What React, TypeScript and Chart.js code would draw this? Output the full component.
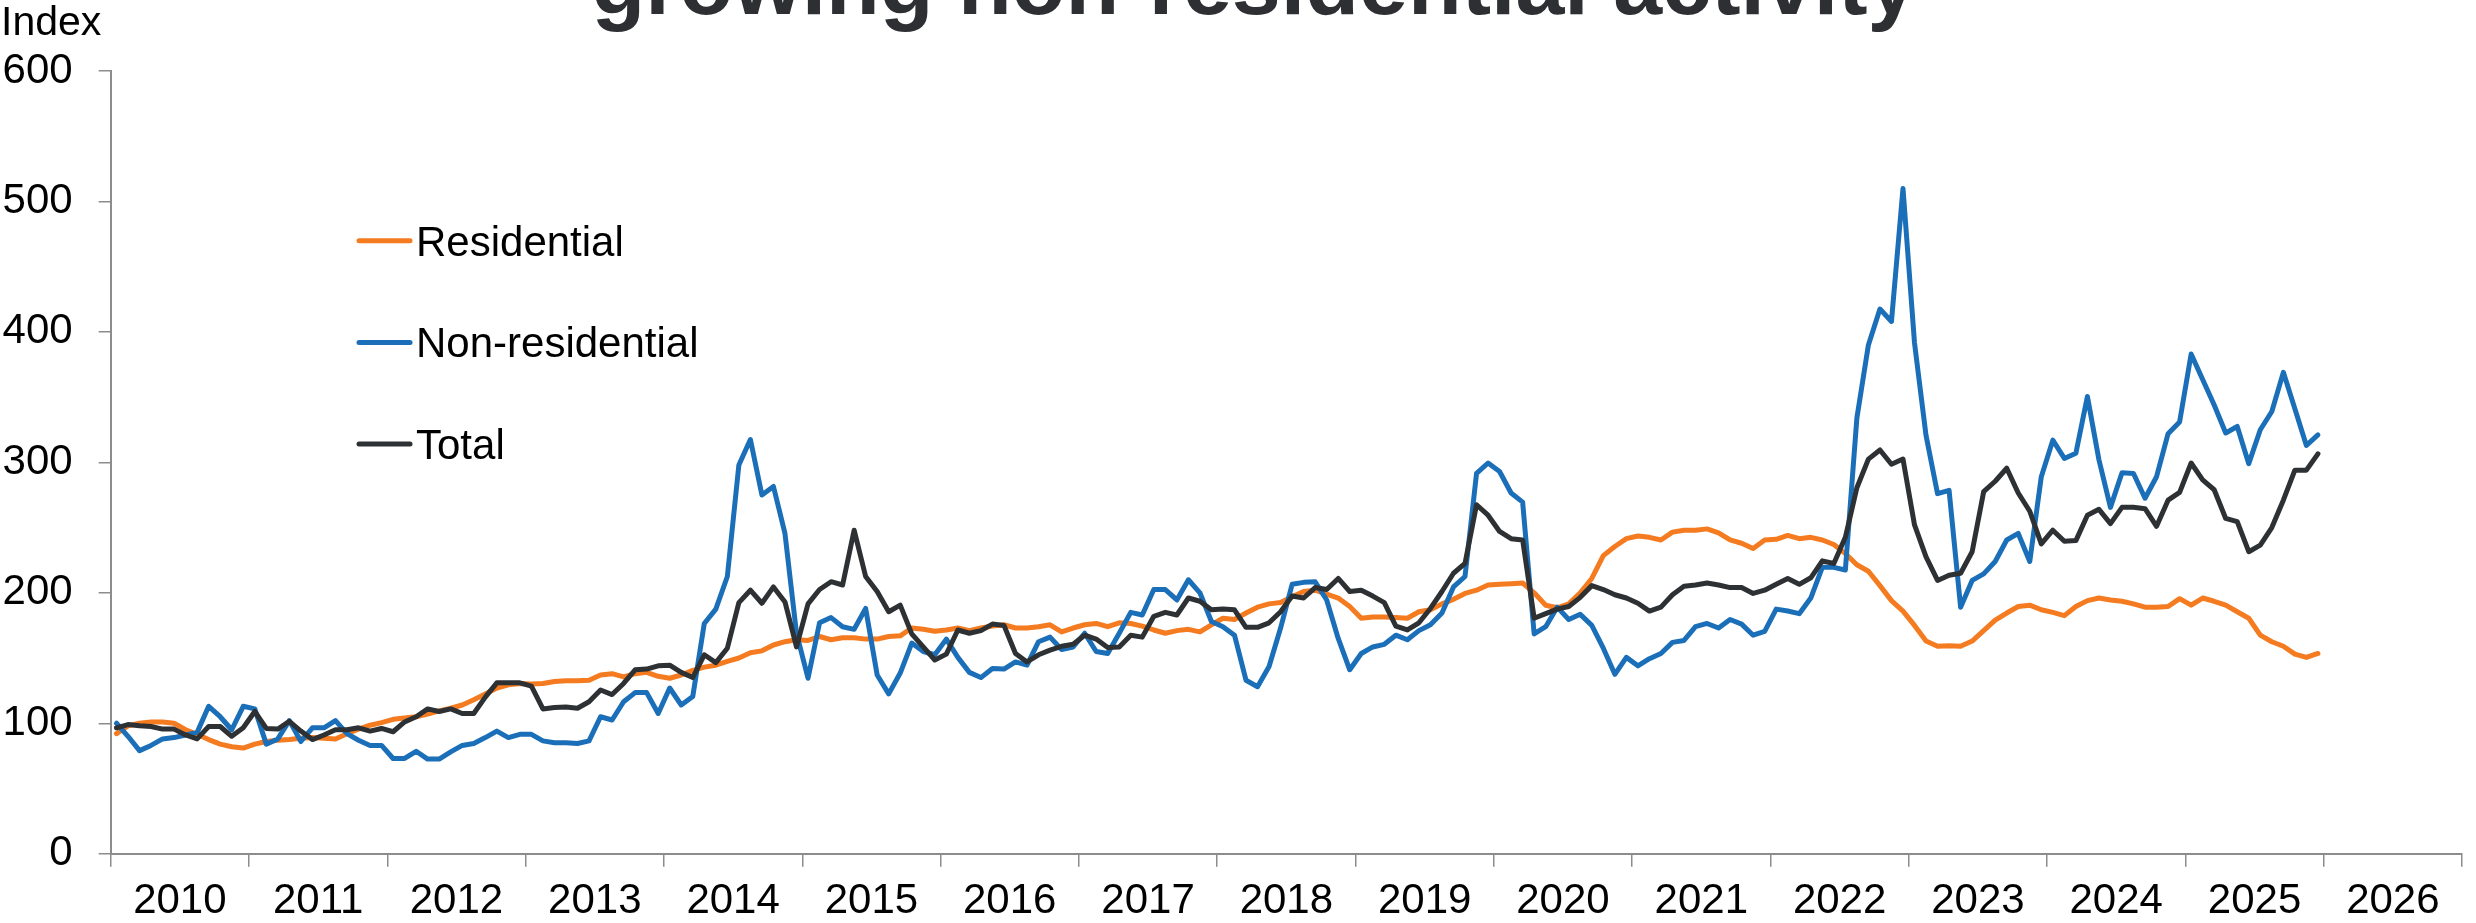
import React, { useEffect, useRef } from 'react';
import { Chart, registerables } from 'chart.js';

Chart.register(...registerables);

const TITLE = 'growing non-residential activity';
const Y_TITLE = 'Index';
const YEARS = ['2010', '2011', '2012', '2013', '2014', '2015', '2016', '2017', '2018', '2019', '2020', '2021', '2022', '2023', '2024', '2025', '2026'];
const SERIES_LABELS = ['Residential', 'Non-residential', 'Total'];
const SERIES_COLORS = ['#f47b20', '#1b6fb8', '#2e3134'];

// monthly index values, Jan 2010 .. Dec 2025
const RESIDENTIAL = [
  92, 98, 100, 101, 101, 100, 95, 91.5, 87.5, 84, 82, 81,
  84, 86, 87, 87.5, 88.5, 89, 88.5, 88, 92, 95.5, 98.5, 100.5,
  103, 104, 105, 107, 109.5, 111.5, 114, 118, 122.5, 127, 129.5, 130.5,
  130, 130.5, 132, 132.5, 132.5, 133, 137, 138, 135.5, 138, 139, 136,
  134.5, 137, 140.5, 143, 144.5, 147.5, 150, 154, 155.5, 160, 162.5, 164,
  163.5, 166.5, 164, 165.5, 165.5, 164.5, 164.5, 166.5, 167, 173, 172, 170.5,
  171.5, 173, 171, 173, 174.5, 175.5, 173, 173, 174, 175.5, 170, 173,
  175.5, 176.5, 174, 177, 176.5, 174.5, 171.5, 169, 171, 172, 170, 175.5,
  180.5, 179.5, 184.5, 189, 191.5, 192.5, 197, 201, 202, 199, 196, 189.5,
  180.5, 181.5, 181.5, 181, 180.5, 185.5, 187, 191.5, 195, 199.5, 202, 206,
  206.5, 207, 207.5, 200, 190.5, 188.5, 191.5, 200, 211, 228.5, 235.5, 241.5,
  243.5, 242.5, 240.5, 246.5, 248, 248, 249, 246, 240.5, 238, 234, 240.5,
  241, 244, 241.5, 242.5, 240.5, 237, 230, 221.5, 216.5, 205.5, 194, 186,
  175, 163, 159, 159.5, 159, 163, 171, 179, 184.5, 189.5, 190.5, 187,
  185, 182.5, 189.5, 194, 196, 194.5, 193.5, 191.5, 189, 189, 189.5, 195.5,
  190.5, 196, 193.5, 190.5, 185.5, 180.5, 167.5, 162.5, 159, 153, 150.5, 153.5,
];

const NON_RESIDENTIAL = [
  100, 90, 79, 83, 88, 89, 91, 93, 113, 105, 95, 113,
  111, 84, 88, 102, 86, 96.5, 96.5, 102, 92, 87, 83, 83,
  73, 73, 78.5, 72.5, 72.5, 78, 83, 84.5, 89, 94, 89, 91.5,
  91.5, 86.5, 85, 85, 84.5, 86.5, 105, 102.5, 116.5, 123.5, 123.5, 107.5,
  127, 114, 120.5, 176.5, 187.5, 212.5, 298, 317.5, 275, 281.5, 245.5, 169,
  134.5, 177, 181, 174, 172, 188, 137, 122.5, 138.5, 161.5, 155, 152.5,
  164.5, 150.5, 139, 135, 142, 141.5, 147, 144.5, 162.5, 166, 156.5, 158.5,
  169, 155, 153.5, 169, 185, 183, 202.5, 202.5, 194.5, 210, 200, 178,
  174, 167.5, 133, 128, 143.5, 173, 206.5, 208, 208.5, 194.5, 165, 141,
  153.5, 158.5, 160.5, 167.5, 164, 171, 175.5, 184.5, 204.5, 212.5, 291.5, 299.5,
  293, 276.5, 269.5, 168.5, 174, 189, 179.5, 183.5, 175, 157.5, 137.5, 150.5,
  144, 149.5, 153.5, 162, 163.5, 174, 176.5, 173, 179.5, 176, 167.5, 170.5,
  187.5, 186, 184, 196, 219.5, 219.5, 217.5, 334, 390, 417.5, 408, 510,
  391.5, 320.5, 276, 278.5, 189, 209.5, 214.5, 224, 240.5, 245.5, 224, 289,
  317, 303, 307, 350.5, 302, 265.5, 292, 291.5, 272.5, 289, 322, 331,
  383, 363.5, 344, 322.5, 327.5, 299, 325, 339, 369, 341, 313, 321,
];

const TOTAL = [
  96.5, 99, 98, 97.5, 95.5, 95.5, 91, 88, 97.5, 97.5, 90, 96.5,
  109, 96, 95.5, 101.5, 94, 87.5, 91, 95, 95, 96.5, 94, 96,
  93.5, 101, 105, 111, 109, 111, 107.5, 107.5, 120, 131, 131, 131,
  128.5, 111, 112, 112.5, 111.5, 116.5, 125.5, 122, 130.5, 141, 141.5, 144,
  144.5, 139, 135, 152.5, 146.5, 157.5, 192.5, 202, 192, 204.5, 193, 158.5,
  191.5, 202.5, 208.5, 206, 248, 212.5, 201, 185.5, 190.5, 168.5, 158.5, 148.5,
  153, 171.5, 169, 171, 176, 175, 153.5, 147, 152.5, 156, 159, 160.5,
  167.5, 164.5, 158, 158.5, 167.5, 166, 182, 185, 183, 196, 193.5, 187,
  187.5, 187, 173.5, 173.5, 177, 185.5, 197.5, 196, 204, 202.5, 211, 201,
  202, 197.5, 192.5, 174.5, 171.5, 177, 188, 201, 215, 222.5, 267.5, 259.5,
  247, 241.5, 240.5, 180.5, 184, 187.5, 189.5, 196.5, 205.5, 202.5, 198.5, 196,
  192, 186, 189, 198.5, 205, 206, 207.5, 206, 204, 204, 199.5, 202,
  206.5, 211, 206.5, 211.5, 224.5, 222.5, 242.5, 280.5, 302.5, 309.5, 298.5, 302.5,
  252, 227.5, 209.5, 213.5, 215, 231.5, 277.5, 285.5, 295.5, 276.5, 262.5, 237.5,
  248, 239.5, 240, 259.5, 264, 253, 265.5, 265.5, 264.5, 251, 271, 277,
  299.5, 286.5, 279, 257, 254.5, 231.5, 236.5, 250, 271, 294, 294, 306.5,
];

const Y_MIN = 0;
const Y_MAX = 600;
const Y_STEP = 100;

const FONT = '"Liberation Sans", Arial, sans-serif';
const AXIS_COLOR = '#8c8c8c';

// each month is plotted at the centre of its month slot on a month-count axis
const monthly = (values: number[]) => values.map((v, i) => ({ x: i + 0.5, y: v }));

const overlayPlugin = {
  id: 'overlay',
  afterDraw(chart: any) {
    const ctx = chart.ctx as CanvasRenderingContext2D;
    ctx.save();
    // title (only its lower part is visible in the source)
    ctx.fillStyle = '#2d2f33';
    ctx.font = `bold 88px ${FONT}`;
    ctx.textAlign = 'center';
    ctx.textBaseline = 'alphabetic';
    ctx.fillText(TITLE, 1254, 14);
    // y axis title
    ctx.fillStyle = '#000000';
    ctx.font = `41px ${FONT}`;
    ctx.textAlign = 'left';
    ctx.fillText(Y_TITLE, 1, 35);
    // legend
    const x0 = 359;
    const x1 = 410;
    chart.data.datasets.forEach((ds: any, i: number) => {
      const y = 240.7 + i * 101.7;
      ctx.strokeStyle = ds.borderColor;
      ctx.lineWidth = 5;
      ctx.lineCap = 'round';
      ctx.beginPath();
      ctx.moveTo(x0, y);
      ctx.lineTo(x1, y);
      ctx.stroke();
      ctx.fillStyle = '#000000';
      ctx.font = `42px ${FONT}`;
      ctx.textAlign = 'left';
      ctx.textBaseline = 'alphabetic';
      ctx.fillText(ds.label, 416, y + 14.8);
    });
    ctx.restore();
  },
};

export default function App() {
  const ref = useRef<HTMLCanvasElement | null>(null);

  useEffect(() => {
    document.body.style.margin = '0';
    const canvas = ref.current;
    if (!canvas) return;
    const seriesValues = [RESIDENTIAL, NON_RESIDENTIAL, TOTAL];
    const nMonths = YEARS.length * 12;
    const chart = new Chart(canvas, {
      type: 'line',
      data: {
        datasets: seriesValues.map((vals, i) => ({
          label: SERIES_LABELS[i],
          data: monthly(vals),
          borderColor: SERIES_COLORS[i],
          backgroundColor: SERIES_COLORS[i],
          borderWidth: 5,
          pointRadius: 0,
          tension: 0,
          borderJoinStyle: 'round',
          borderCapStyle: 'round',
          order: seriesValues.length - i,
        })),
      },
      options: {
        responsive: false,
        animation: false,
        devicePixelRatio: 1,
        layout: { padding: { top: 71, right: 1, left: 0, bottom: 0 } },
        plugins: {
          legend: { display: false },
          tooltip: { enabled: false },
          title: { display: false },
        },
        scales: {
          x: {
            type: 'linear',
            min: 0,
            max: nMonths,
            afterBuildTicks: (scale: any) => {
              const ticks = [];
              for (let v = 0; v <= nMonths; v += 6) ticks.push({ value: v });
              scale.ticks = ticks;
            },
            afterFit: (scale: any) => {
              scale.height = 69.3;
            },
            grid: {
              drawOnChartArea: false,
              drawTicks: true,
              tickLength: 13,
              lineWidth: 1.5,
              tickColor: (c: any) => (c.tick && c.tick.value % 12 === 0 ? AXIS_COLOR : 'rgba(0,0,0,0)'),
            },
            border: { display: true, color: AXIS_COLOR, width: 2 },
            ticks: {
              autoSkip: false,
              maxRotation: 0,
              minRotation: 0,
              padding: 14,
              color: '#000000',
              font: { family: FONT, size: 42, lineHeight: 1 },
              callback: (value: any) => {
                const v = Number(value);
                return v % 12 === 6 ? YEARS[(v - 6) / 12] : '';
              },
            },
          },
          y: {
            type: 'linear',
            min: Y_MIN,
            max: Y_MAX,
            afterFit: (scale: any) => {
              scale.width = 110.7;
            },
            grid: {
              drawOnChartArea: false,
              drawTicks: true,
              tickLength: 12,
              lineWidth: 1.5,
              tickColor: AXIS_COLOR,
            },
            border: { display: true, color: AXIS_COLOR, width: 2 },
            ticks: {
              stepSize: Y_STEP,
              padding: 26,
              color: '#000000',
              font: { family: FONT, size: 42, lineHeight: 1 },
            },
          },
        },
      },
      plugins: [overlayPlugin],
    } as any);
    return () => chart.destroy();
  }, []);

  return (
    <canvas
      ref={ref}
      width={2476}
      height={923}
      style={{ display: 'block', width: 2476, height: 923 }}
    />
  );
}
